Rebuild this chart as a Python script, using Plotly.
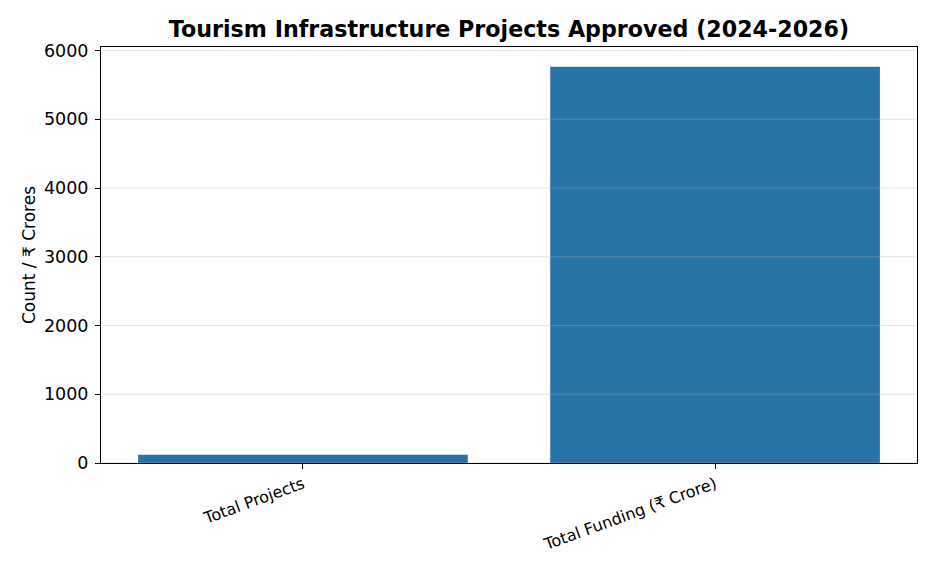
import plotly.graph_objects as go

categories = ["Total Projects", "Total Funding (₹ Crore)"]
values = [120, 5763]
y_ticks = [0, 1000, 2000, 3000, 4000, 5000, 6000]

font_family = "DejaVu Sans"

fig = go.Figure()
fig.add_trace(go.Bar(
    x=[0, 1], y=values, width=0.8,
    marker=dict(color="#2874a6", line=dict(width=0)),
    hovertext=categories,
))

# gridlines drawn over the bars (semi-transparent)
for t in y_ticks:
    fig.add_shape(type="line", xref="x domain", yref="y", x0=0, x1=1, y0=t, y1=t,
                  line=dict(color="rgba(176,176,176,0.35)", width=1), layer="above")

fig.update_layout(
    width=936, height=572,
    margin=dict(l=101, r=19, t=47, b=109),
    paper_bgcolor="white", plot_bgcolor="white",
    font=dict(family=font_family, color="black", size=16),
    title=dict(text="<b>Tourism Infrastructure Projects Approved (2024-2026)</b>",
               x=0.5, xanchor="center", xref="paper", y=0.949, yanchor="middle",
               font=dict(size=22.2, family=font_family, color="black")),
    showlegend=False,
    bargap=0.2,
)
fig.update_xaxes(
    range=[-0.49, 1.49], tickmode="array", tickvals=[0, 1], ticktext=categories,
    tickangle=-20, ticks="outside", ticklen=5, tickwidth=1, tickcolor="black",
    showline=True, linecolor="black", linewidth=1, mirror=True,
    showgrid=False, zeroline=False, tickfont=dict(size=16),
)
fig.update_yaxes(
    range=[0, 6051], tickmode="array", tickvals=y_ticks, ticktext=[str(t) for t in y_ticks],
    ticks="outside", ticklen=5, tickwidth=1, tickcolor="black",
    showline=True, linecolor="black", linewidth=1, mirror=True,
    showgrid=False, zeroline=False, tickfont=dict(size=17.5), ticklabelstandoff=3,
    title=dict(text="Count / ₹ Crores", font=dict(size=17), standoff=4),
)

fig.write_html("out.html")
